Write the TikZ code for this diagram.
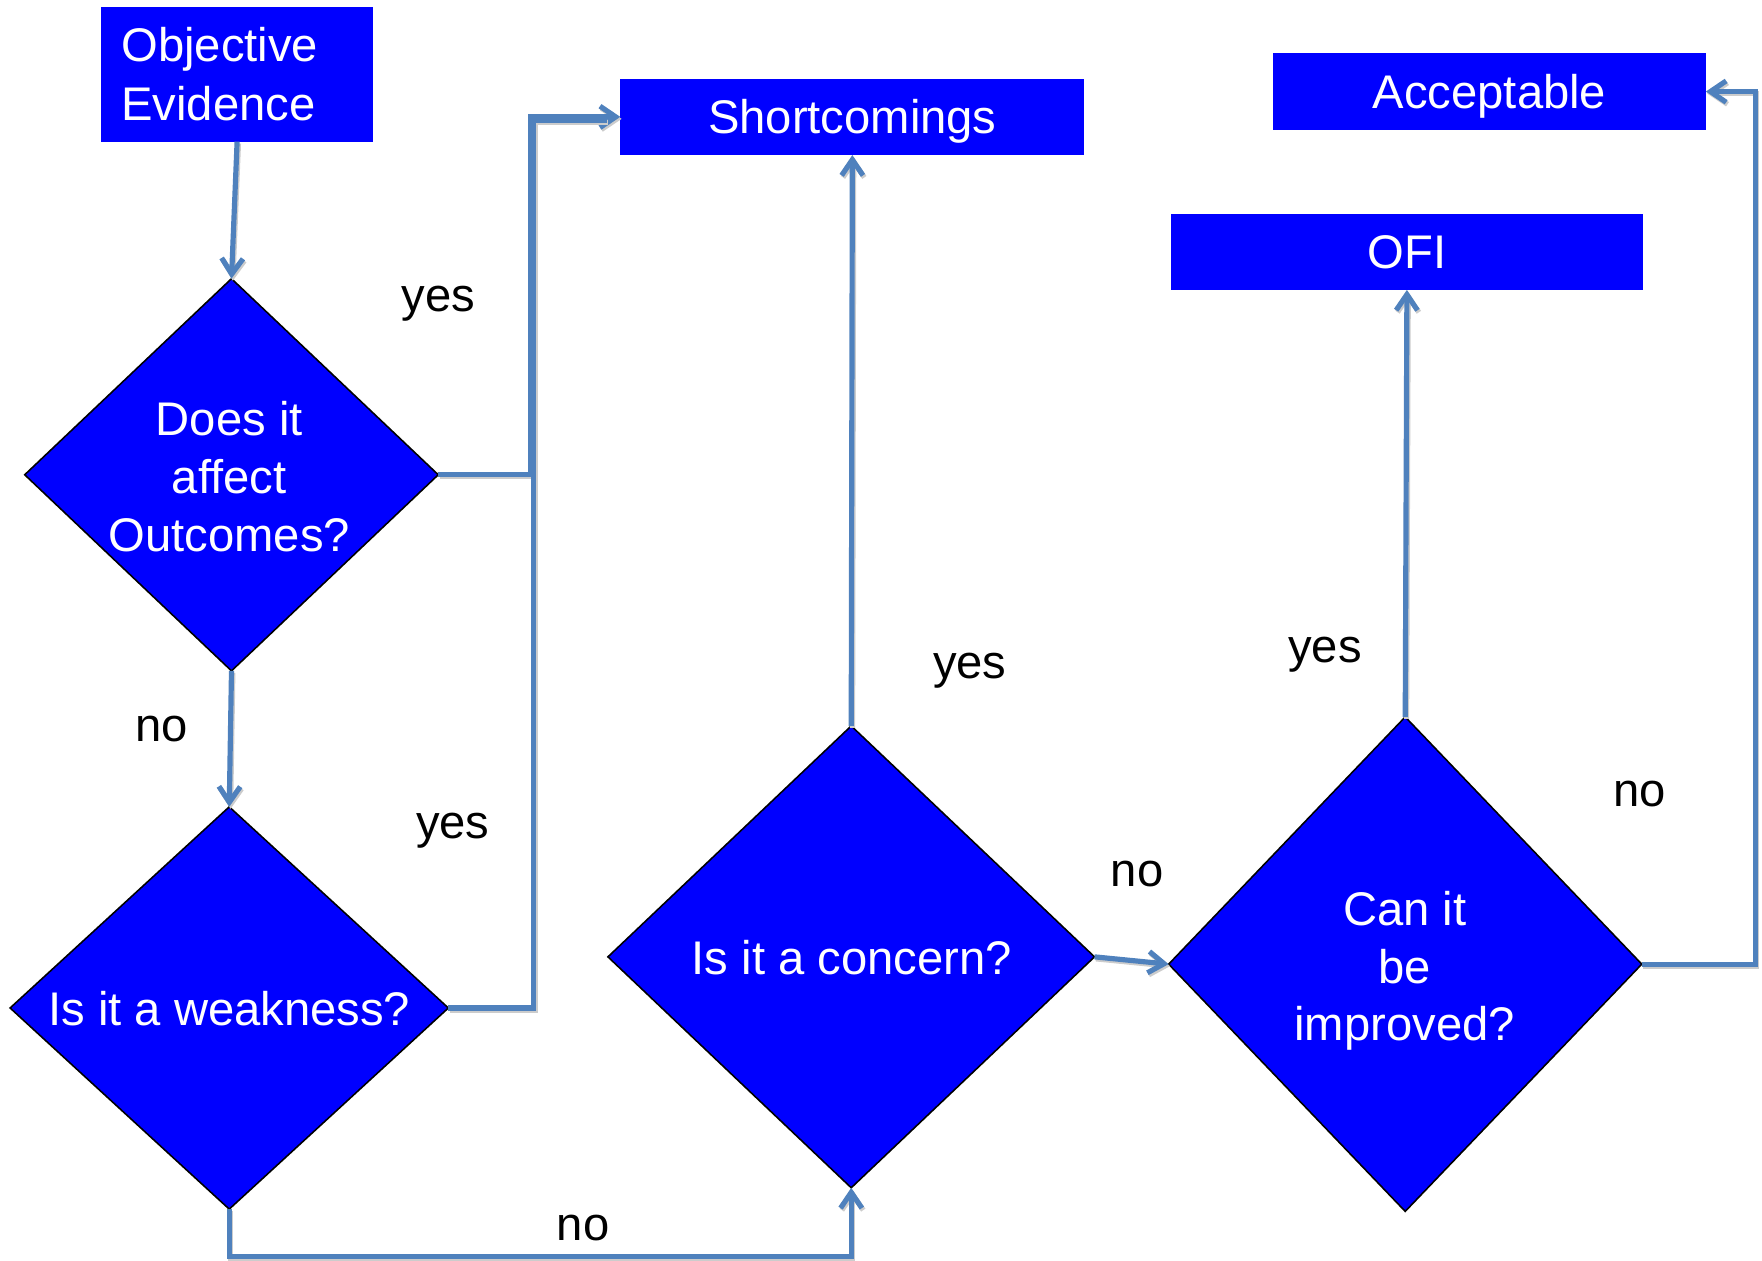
\documentclass[tikz,border=0pt]{standalone}
\usepackage{fontspec}
\setmainfont{Liberation Sans}
\usetikzlibrary{shapes.geometric,arrows.meta}
\definecolor{boxblue}{RGB}{0,0,255}
\definecolor{lineblue}{RGB}{79,129,189}
\tikzset{
  boxnode/.style={rectangle, fill=boxblue, text=white, inner sep=0pt, outer sep=0pt,
    font=\fontsize{21}{26}\selectfont},
  onebox/.style={boxnode, text height=15pt, text depth=0pt},
  dianode/.style={diamond, fill=boxblue, draw=black, line width=0.7pt, inner sep=0pt, outer sep=0pt},
  diatext/.style={text=white, align=center, inner sep=0pt, font=\fontsize{21}{25.75}\selectfont},
  lbl/.style={text=black, inner sep=0pt, anchor=base, font=\fontsize{21}{25}\selectfont},
  lineonly/.style={draw=lineblue, line width=2.3pt,
    preaction={draw=black!20, line width=2.3pt, transform canvas={shift={(0.6pt,-0.9pt)}}}},
  conn/.style={lineonly, -{Straight Barb[length=7pt,width=9.5pt]}}
}
\begin{document}
\begin{tikzpicture}[x=0.5pt,y=-0.5pt]
\useasboundingbox (0,0) rectangle (1568,1122);
% boxes
\node[boxnode, minimum width=121pt, minimum height=60pt, text width=103pt, align=left] (obj) at (211,66) {Objective\\Evidence};
\node[onebox, minimum width=206.5pt, minimum height=34pt] (sc) at (758.5,104) {Shortcomings};
\node[onebox, minimum width=192.5pt, minimum height=34.5pt] (acc) at (1325.5,81.5) {Acceptable};
\node[onebox, minimum width=210pt, minimum height=34pt] (ofi) at (1252,224) {OFI};
% diamonds
\node[dianode, minimum width=184pt, minimum height=174.5pt] (d1) at (206,422.5) {};
\node[dianode, minimum width=195pt, minimum height=179pt] (d2) at (204,897) {};
\node[dianode, minimum width=216.5pt, minimum height=205.5pt] (d3) at (757.5,851.5) {};
\node[dianode, minimum width=210.5pt, minimum height=220pt] (d4) at (1250.5,858) {};
\node[diatext] (t1) at (204,424) {Does it\\affect\\Outcomes?};
\node[diatext] (t2) at (204,898) {Is it a weakness?};
\node[diatext] (t3) at (758,852) {Is it a concern?};
\node[diatext] (t4) at (1250,864) {Can it\\be\\improved?};
% connectors
\draw[conn] (d1.east) -- ++(82,0) |- (sc.west);
\draw[lineonly] (d2.east) -- ++(76,0) |- ([yshift=-1.5pt,xshift=-6pt]sc.west);
\draw[conn] (obj.south) -- (d1.north);
\draw[conn] (d1.south) -- (d2.north);
\draw[conn] (d2.south) -- ++(0,42) -| (d3.south);
\draw[conn] (d3.north) -- (sc.south);
\draw[conn] (d3.east) -- (d4.west);
\draw[conn] (d4.north) -- (ofi.south);
\draw[conn] (d4.east) -- ++(101,0) |- (acc.east);
% labels
\node[lbl] (y1) at (390,277) {yes};
\node[lbl] (n1) at (144,660) {no};
\node[lbl] (y2) at (403,746) {yes};
\node[lbl] (n2) at (519,1104) {no};
\node[lbl] (y3) at (863,604) {yes};
\node[lbl] (n3) at (1012,789) {no};
\node[lbl] (y4) at (1179,590) {yes};
\node[lbl] (n4) at (1459,718) {no};
\end{tikzpicture}
\end{document}
